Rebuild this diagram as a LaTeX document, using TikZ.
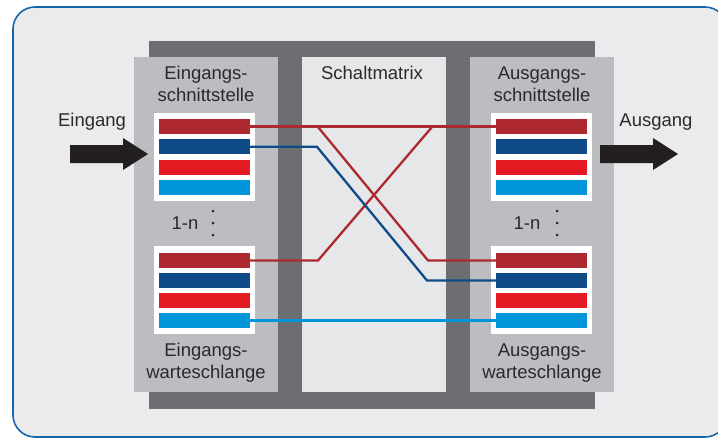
\documentclass[tikz,border=0pt]{standalone}
\usepackage{fontspec}
\setmainfont{Liberation Sans}
\begin{document}
\begin{tikzpicture}[x=1pt,y=-1pt,
  txt/.style={text=textc,font=\fontsize{18.5}{22}\selectfont,align=center,inner sep=0pt},
  bar/.style={minimum width=91pt,minimum height=15pt,inner sep=0pt,draw=none},
  wbox/.style={fill=white,draw=none},
  conn/.style={line width=2.3pt},
  bigarrow/.style={fill=arrowc,draw=none},
  dotc/.style={circle,fill=textc,inner sep=0pt,minimum size=3pt}]
\definecolor{outerbg}{HTML}{EBEBED}
\definecolor{outerline}{HTML}{1565AD}
\definecolor{frame}{HTML}{6D6E71}
\definecolor{panel}{HTML}{BCBDC0}
\definecolor{midpanel}{HTML}{E6E7E8}
\definecolor{textc}{HTML}{2A2A2C}
\definecolor{arrowc}{HTML}{231F20}
\definecolor{cA}{HTML}{AE2830}
\definecolor{cB}{HTML}{0F4C87}
\definecolor{cC}{HTML}{E41B23}
\definecolor{cD}{HTML}{0096D9}
\useasboundingbox (0,0) rectangle (718,437);
\fill[white] (0,0) rectangle (718,437);
% outer rounded frame
\draw[fill=outerbg,draw=outerline,line width=1.6pt,rounded corners=22pt] (13,7) rectangle (727,437);
% dark frame
\fill[frame] (149,41) rectangle (595,409);
% panels
\fill[panel] (134,57) rectangle (278,392);
\fill[midpanel] (302,57) rectangle (446,392);
\fill[panel] (470,57) rectangle (614,392);
% white boxes
\fill[white] (154,113) rectangle (255,201);
\fill[white] (154,246) rectangle (255,334);
\fill[white] (491,113) rectangle (592,201);
\fill[white] (491,246) rectangle (592,334);
% bars
\foreach \nm/\cx in {lt/204.5,rt/541.5}{
  \node[bar,fill=cA] (\nm1) at (\cx,126.5) {};
  \node[bar,fill=cB] (\nm2) at (\cx,146.8) {};
  \node[bar,fill=cC] (\nm3) at (\cx,167.2) {};
  \node[bar,fill=cD] (\nm4) at (\cx,187.5) {};
}
\foreach \nm/\cx in {lb/204.5,rb/541.5}{
  \node[bar,fill=cA] (\nm1) at (\cx,260.5) {};
  \node[bar,fill=cB] (\nm2) at (\cx,280.5) {};
  \node[bar,fill=cC] (\nm3) at (\cx,300.5) {};
  \node[bar,fill=cD] (\nm4) at (\cx,320.5) {};
}
% connectors
\coordinate (ra) at (318,127);
\coordinate (rb) at (428,260.5);
\coordinate (rc) at (318,260.5);
\coordinate (rd) at (432,127);
\coordinate (ba) at (317,146.8);
\coordinate (bb) at (427,280.5);
\draw[conn,cA] (lt1.east) -- (rt1.west);
\draw[conn,cA,line join=miter] (ra) -- (rb) -- (rb1.west);
\draw[conn,cA,line join=miter] (lb1.east) -- (rc) -- (rd);
\draw[conn,cB,line join=miter] (lt2.east) -- (ba) -- (bb) -- (rb2.west);
\draw[conn,cD] (lb4.east) -- (rb4.west);
% texts
\node[txt] (t1) at (206,84) {Eingangs-\\schnittstelle};
\node[txt] (t2) at (372,73) {Schaltmatrix};
\node[txt] (t3) at (542,84) {Ausgangs-\\schnittstelle};
\node[txt] (t4) at (206,363) {Eingangs-\\warteschlange};
\node[txt] (t5) at (542,363) {Ausgangs-\\warteschlange};
\node[txt] (t6) at (92,122) {Eingang};
\node[txt] (t7) at (656,122) {Ausgang};
\node[txt] (n1) at (185,223) {1-n};
\node[txt] (n2) at (527,223) {1-n};
\foreach \y in {211,223,235}{
  \node[dotc] at (213,\y) {};
  \node[dotc] at (557,\y) {};
}
% arrows
\fill[bigarrow] (70,145) -- (123,145) -- (123,138) -- (148,154) -- (123,170) -- (123,163) -- (70,163) -- cycle;
\fill[bigarrow] (600,145) -- (653,145) -- (653,138) -- (678,154) -- (653,170) -- (653,163) -- (600,163) -- cycle;
\end{tikzpicture}
\end{document}
